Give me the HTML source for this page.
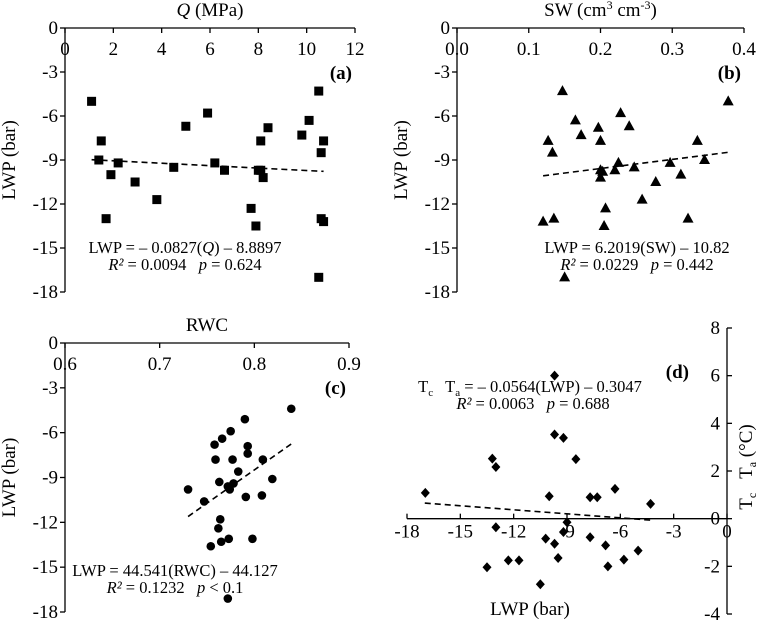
<!DOCTYPE html>
<html><head><meta charset="utf-8">
<style>
html,body{margin:0;padding:0;background:#fff;}
svg{display:block;font-family:"Liberation Serif",serif;}
svg text{white-space:pre;}
</style></head>
<body>
<svg id="chart" width="757" height="622" viewBox="0 0 757 622" xmlns="http://www.w3.org/2000/svg" xml:space="preserve"></svg>
<script>
// Panel (a): Q vs LWP
const aQ   = [1.1,1.5,1.4,1.9,2.2,1.7,2.9,3.8,4.5,5.0,5.9,6.2,6.6,7.7,7.9,8.1,8.1,8.2,8.4,9.8,10.1,10.5,10.6,10.7,10.6,10.7,10.5,8.0];
const aLWP = [-5.0,-7.7,-9.0,-10.0,-9.2,-13.0,-10.5,-11.7,-9.5,-6.7,-5.8,-9.2,-9.7,-12.3,-13.5,-7.7,-9.7,-10.2,-6.8,-7.3,-6.3,-4.3,-8.5,-7.7,-13.0,-13.2,-17.0,-9.7];
const aXTicks = [0,2,4,6,8,10,12];
// Panel (b): SW vs LWP
const bSW  = [0.12,0.127,0.133,0.135,0.147,0.150,0.165,0.173,0.197,0.200,0.200,0.200,0.203,0.205,0.207,0.220,0.225,0.228,0.240,0.247,0.258,0.277,0.297,0.312,0.322,0.335,0.345,0.378];
const bLWP = [-13.2,-7.7,-8.5,-13.0,-4.3,-17.0,-6.3,-7.3,-6.8,-7.7,-9.7,-10.2,-9.8,-13.5,-12.3,-9.7,-9.2,-5.8,-6.7,-9.5,-11.7,-10.5,-9.2,-10.0,-13.0,-7.7,-9.0,-5.0];
const bXTicks = ["0.0","0.1","0.2","0.3","0.4"];
// Panel (c): RWC vs LWP
const cRWC = [0.730,0.747,0.754,0.758,0.759,0.763,0.764,0.762,0.765,0.766,0.773,0.772,0.775,0.777,0.774,0.778,0.783,0.790,0.791,0.793,0.793,0.798,0.809,0.808,0.819,0.839,0.772];
const cLWP = [-9.8,-10.6,-13.6,-6.8,-7.8,-9.3,-11.8,-12.4,-13.3,-6.4,-13.1,-17.1,-5.9,-7.8,-9.8,-9.4,-8.6,-5.1,-10.3,-6.9,-7.4,-13.1,-7.8,-10.2,-9.1,-4.4,-9.6];
const cXTicks = ["0.6","0.7","0.8","0.9"];
// Panel (d): LWP vs Tc-Ta
const dLWP = [-16.97,-13.2,-13.0,-13.0,-13.5,-12.3,-11.7,-10.5,-10.2,-10.0,-9.7,-9.7,-9.7,-9.5,-9.2,-9.2,-9.0,-8.5,-7.7,-7.3,-7.7,-6.83,-6.7,-6.3,-5.8,-5.0,-4.3];
const dTd  = [1.08,2.52,2.17,-0.36,-2.04,-1.75,-1.75,-2.75,-0.84,0.94,6.0,3.53,-1.05,-1.65,3.39,-0.56,-0.15,2.5,0.9,0.9,-0.78,-1.12,-2.0,1.25,-1.72,-1.34,0.62];
const dXTicks = [-18,-15,-12,-9,-6,-3,0];
const dYTicks = [8,6,4,2,0,-2,-4];
const lwpTicks = [0,-3,-6,-9,-12,-15,-18];

const svg = document.getElementById('chart');
const NS = 'http://www.w3.org/2000/svg';
const TICK = 19, TITLE = 19, EQ = 16.5;
function el(tag, attrs, parent){
  const e = document.createElementNS(NS, tag);
  for (const k in attrs) e.setAttribute(k, attrs[k]);
  (parent||svg).appendChild(e);
  return e;
}
function txt(s, x, y, opts, parent){
  const t = el('text', {x:x, y:y, 'font-size':opts.size||TICK, 'text-anchor':opts.anchor||'middle', fill:'#000'}, parent);
  if (opts.weight) t.setAttribute('font-weight', opts.weight);
  if (opts.rot) t.setAttribute('transform', 'rotate(-90 '+x+' '+y+')');
  t.innerHTML = s;
  return t;
}

function lwpAxis(g, xAxisX, y0, y18){
  const sy = v => y0 + (v/-18)*(y18-y0);
  el('line',{x1:xAxisX,y1:y0,x2:xAxisX,y2:y18,stroke:'#000','stroke-width':1.3},g);
  lwpTicks.forEach(v=>{
    const y = sy(v);
    el('line',{x1:xAxisX-5,y1:y,x2:xAxisX,y2:y,stroke:'#000','stroke-width':1.3},g);
    txt(String(v), xAxisX-7, y+6, {anchor:'end'}, g);
  });
  return sy;
}

function marker(g, type, x, y, name){
  let m;
  if (type==='square') m = el('rect',{x:x-4.5,y:y-4.5,width:9,height:9,fill:'#000'},g);
  else if (type==='tri') m = el('polygon',{points:(x)+','+(y-6)+' '+(x+5.5)+','+(y+4)+' '+(x-5.5)+','+(y+4),fill:'#000'},g);
  else if (type==='circle') m = el('circle',{cx:x,cy:y,r:4.3,fill:'#000'},g);
  else m = el('polygon',{points:x+','+(y-5)+' '+(x+4.5)+','+y+' '+x+','+(y+5)+' '+(x-4.5)+','+y,fill:'#000'},g);
  
  
}

function topPanel(cfg){
  const g = el('g',{});
  
  
  const sx = v => cfg.x0 + (v-cfg.xmin)/(cfg.xmax-cfg.xmin)*(cfg.x1-cfg.x0);
  const sy = lwpAxis(g, cfg.x0, cfg.y0, cfg.y18);
  el('line',{x1:cfg.x0,y1:cfg.y0,x2:cfg.x1,y2:cfg.y0,stroke:'#000','stroke-width':1.3},g);
  cfg.ticks.forEach(t=>{
    const x = sx(parseFloat(t));
    el('line',{x1:x,y1:cfg.y0,x2:x,y2:cfg.y0+5,stroke:'#000','stroke-width':1.3},g);
    txt(String(t), x, cfg.y0+27, {}, g);
  });
  txt(cfg.title, (cfg.x0+cfg.x1)/2, cfg.y0-12, {size:TITLE}, g);
  txt('LWP (bar)', cfg.x0-50, (cfg.y0+cfg.y18)/2, {size:TITLE,rot:true}, g);
  txt(cfg.tag, cfg.x1-3, cfg.y0+51, {size:19,anchor:'end',weight:'bold'}, g);
  el('line',{x1:sx(cfg.tx[0]),y1:sy(cfg.m*cfg.tx[0]+cfg.b),x2:sx(cfg.tx[1]),y2:sy(cfg.m*cfg.tx[1]+cfg.b),stroke:'#000','stroke-width':1.6,'stroke-dasharray':'6,4'},g);
  cfg.xs.forEach((v,i)=>marker(g, cfg.mk, sx(v), sy(cfg.ys[i]), 'data-point'));
  txt(cfg.eq1, cfg.eqx, cfg.eqy, {size:EQ}, g);
  txt(cfg.eq2, cfg.eqx, cfg.eqy+17, {size:EQ}, g);
}

topPanel({name:'panel-a', x0:65, x1:355, xmin:0, xmax:12, y0:28, y18:292, ticks:aXTicks,
  title:'<tspan font-style="italic">Q</tspan> (MPa)', tag:'(a)', tx:[1.1,10.7], m:-0.0827, b:-8.8897,
  xs:aQ, ys:aLWP, mk:'square', eqx:185, eqy:253,
  eq1:'LWP = – 0.0827(<tspan font-style="italic">Q</tspan>) – 8.8897',
  eq2:'<tspan font-style="italic">R²</tspan> = 0.0094   <tspan font-style="italic">p</tspan> = 0.624'});
topPanel({name:'panel-b', x0:457, x1:744, xmin:0, xmax:0.4, y0:28, y18:292, ticks:bXTicks,
  title:'SW (cm<tspan font-size="12" dy="-7">3</tspan><tspan dy="7"> cm</tspan><tspan font-size="12" dy="-7">-3</tspan><tspan dy="7">)</tspan>', tag:'(b)', tx:[0.12,0.378], m:6.2019, b:-10.82,
  xs:bSW, ys:bLWP, mk:'tri', eqx:637, eqy:253,
  eq1:'LWP = 6.2019(SW) – 10.82',
  eq2:'<tspan font-style="italic">R²</tspan> = 0.0229   <tspan font-style="italic">p</tspan> = 0.442'});
topPanel({name:'panel-c', x0:65, x1:349, xmin:0.6, xmax:0.9, y0:343, y18:612, ticks:cXTicks,
  title:'RWC', tag:'(c)', tx:[0.73,0.84], m:44.541, b:-44.127,
  xs:cRWC, ys:cLWP, mk:'circle', eqx:175, eqy:576,
  eq1:'LWP = 44.541(RWC) – 44.127',
  eq2:'<tspan font-style="italic">R²</tspan> = 0.1232   <tspan font-style="italic">p</tspan> &lt; 0.1'});

// Panel (d)
(function(){
  const g = el('g',{});
  
  
  const xA=727, x18=407, y8=328, yn4=614;
  const sx = v => xA + (v/18)*(xA-x18);
  const sy = v => y8 + (8-v)/12*(yn4-y8);
  const y0 = sy(0);
  el('line',{x1:x18,y1:y0,x2:xA,y2:y0,stroke:'#000','stroke-width':1.3},g);
  el('line',{x1:xA,y1:y8,x2:xA,y2:yn4,stroke:'#000','stroke-width':1.3},g);
  dXTicks.forEach(v=>{
    const x=sx(v);
    el('line',{x1:x,y1:y0,x2:x,y2:y0-5,stroke:'#000','stroke-width':1.3},g);
    txt(String(v), x, y0+19, {}, g);
  });
  dYTicks.forEach(v=>{
    const y=sy(v);
    el('line',{x1:xA,y1:y,x2:xA+5,y2:y,stroke:'#000','stroke-width':1.3},g);
    txt(String(v), xA-7, y+6, {anchor:'end'}, g);
  });
  txt('LWP (bar)', 530, 615, {size:TITLE}, g);
  txt('T<tspan font-size="12" dy="4">c</tspan><tspan dy="-4">   T</tspan><tspan font-size="12" dy="4">a</tspan><tspan dy="-4"> (°C)</tspan>', 752, 467, {size:TITLE,rot:true}, g);
  txt('(d)', 689, 378, {size:19,anchor:'end',weight:'bold'}, g);
  const m=-0.0564, b=-0.3047, tx=[-17,-4.3];
  el('line',{x1:sx(tx[0]),y1:sy(m*tx[0]+b),x2:sx(tx[1]),y2:sy(m*tx[1]+b),stroke:'#000','stroke-width':1.6,'stroke-dasharray':'6,4'},g);
  dLWP.forEach((v,i)=>marker(g,'diamond',sx(v),sy(dTd[i]),'data-point'));
  txt('T<tspan font-size="11" dy="4">c</tspan><tspan dy="-4">   T</tspan><tspan font-size="11" dy="4">a</tspan><tspan dy="-4"> = – 0.0564(LWP) – 0.3047</tspan>', 530, 392, {size:EQ}, g);
  txt('<tspan font-style="italic">R²</tspan> = 0.0063   <tspan font-style="italic">p</tspan> = 0.688', 533, 409, {size:EQ}, g);
})();
</script>
</body></html>
